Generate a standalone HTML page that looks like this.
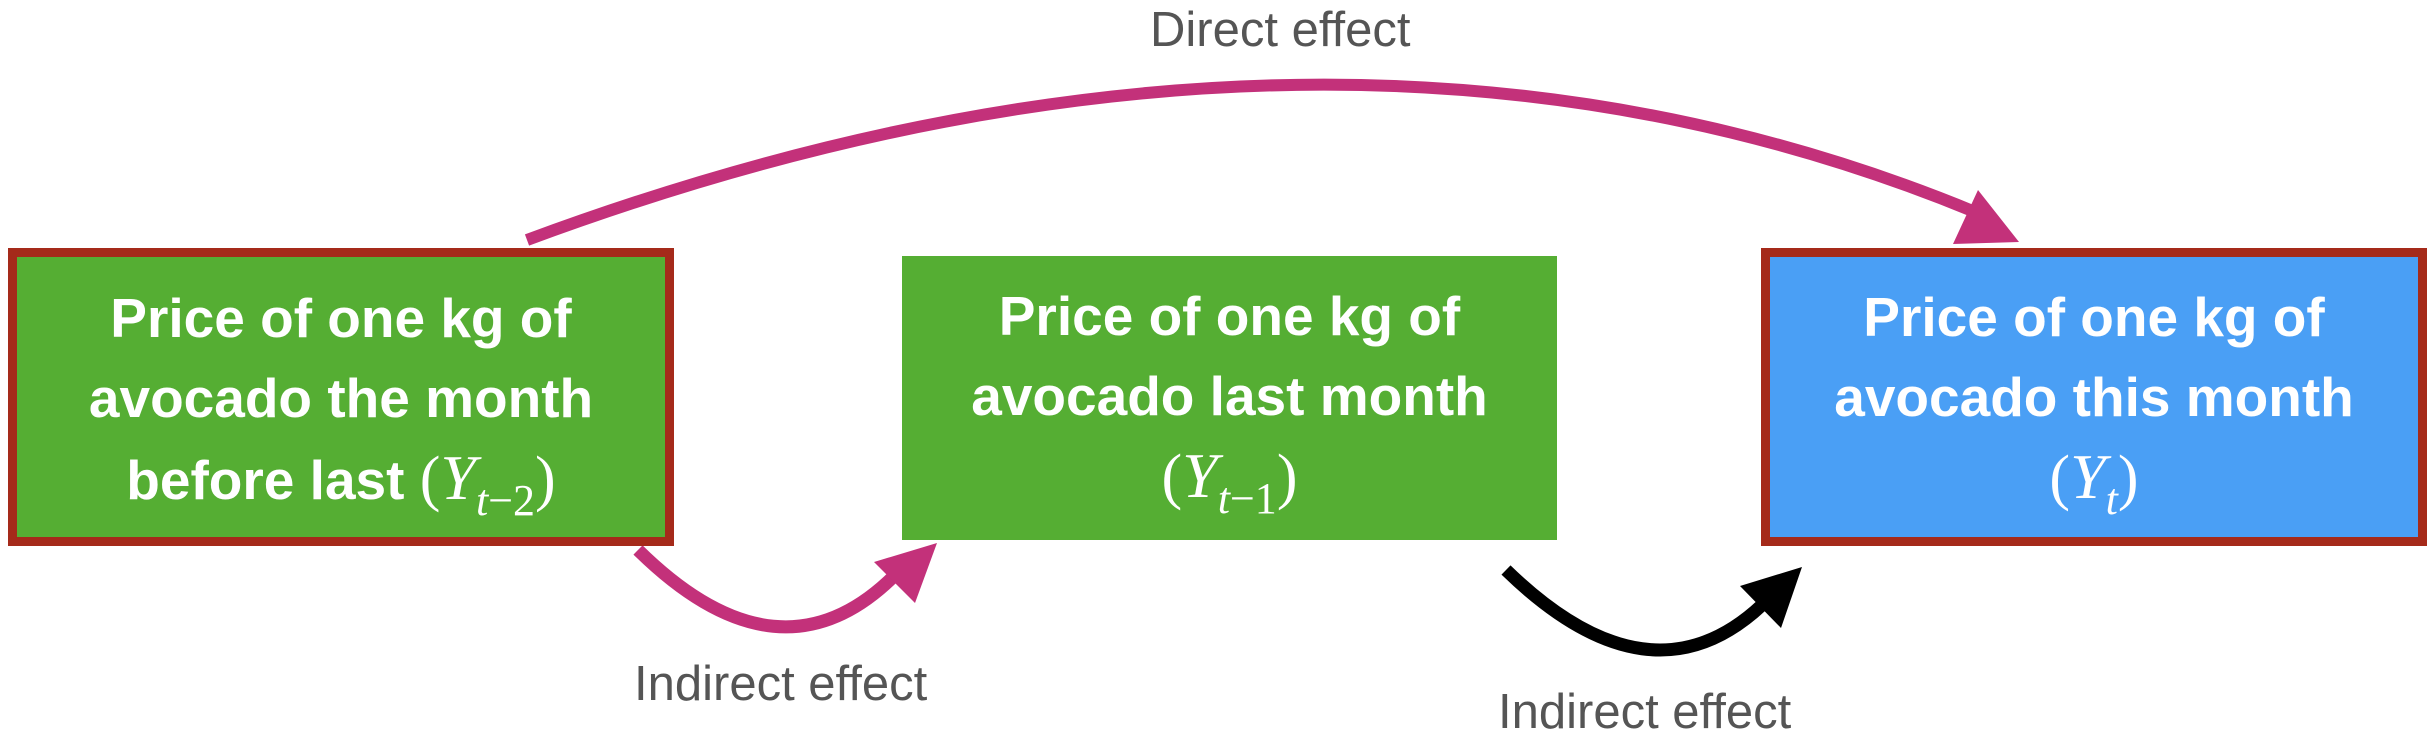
<!DOCTYPE html>
<html><head><meta charset="utf-8"><style>
html,body{margin:0;padding:0;background:#fff;}
body{width:2434px;height:736px;position:relative;overflow:hidden;font-family:"Liberation Sans",sans-serif;}
.box{position:absolute;box-sizing:border-box;color:#fff;font-weight:bold;font-size:55px;line-height:80px;text-align:center;display:flex;align-items:center;justify-content:center;}
.m{font-family:"Liberation Serif",serif;font-style:italic;font-weight:normal;font-size:64px;}
.s{font-family:"Liberation Serif",serif;font-style:italic;font-weight:normal;font-size:44px;position:relative;top:16px;}
.p{font-weight:normal;font-family:"Liberation Serif",serif;font-size:62px;}
.lbl{position:absolute;color:#555;font-size:49px;white-space:nowrap;}
</style></head><body>
<svg width="2434" height="736" style="position:absolute;left:0;top:0">
<path d="M527 240 Q1325 -56 1975 212" fill="none" stroke="#C3317A" stroke-width="12"/>
<polygon points="2019,242 1978,190 1953,244" fill="#C3317A"/>
<path d="M638 550 Q780 690 895 575" fill="none" stroke="#C3317A" stroke-width="13"/>
<polygon points="937,543 874,562 915,603" fill="#C3317A"/>
<path d="M1506 570 Q1650 710 1762 605" fill="none" stroke="#000" stroke-width="13"/>
<polygon points="1802,567 1740,586 1781,628" fill="#000"/>
</svg>
<div class="box" style="left:8px;top:248px;width:666px;height:298px;background:#55AE33;border:9px solid #A52A1A;padding-top:8px">
<div>Price of one kg of<br>avocado the month<br>before last <span class="p">(</span><span class="m">Y</span><span class="s">t</span><span class="s" style="font-style:normal">−2</span><span class="p">)</span></div></div>
<div class="box" style="left:902px;top:256px;width:655px;height:284px;background:#55AE33;padding-top:2px">
<div>Price of one kg of<br>avocado last month<br><span class="p">(</span><span class="m">Y</span><span class="s">t</span><span class="s" style="font-style:normal">−1</span><span class="p">)</span></div></div>
<div class="box" style="left:1761px;top:248px;width:666px;height:298px;background:#4A9FF5;border:9px solid #A52A1A;padding-top:6px">
<div>Price of one kg of<br>avocado this month<br><span class="p">(</span><span class="m">Y</span><span class="s">t</span><span class="p">)</span></div></div>
<div class="lbl" style="left:1150px;top:2px;">Direct effect</div>
<div class="lbl" style="left:634px;top:656px;">Indirect effect</div>
<div class="lbl" style="left:1498px;top:684px;">Indirect effect</div>
</body></html>
